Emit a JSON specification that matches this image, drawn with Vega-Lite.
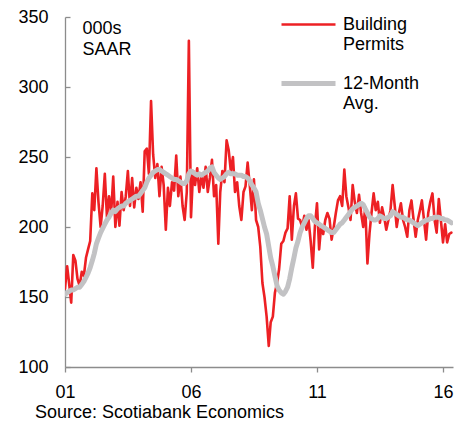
{
  "$schema": "https://vega.github.io/schema/vega-lite/v6.json",
  "width": 388,
  "height": 350,
  "autosize": "none",
  "padding": {"left": 65, "top": 17, "right": 13, "bottom": 57},
  "background": "white",
  "config": {
    "view": {"stroke": null},
    "font": "Liberation Sans",
    "axis": {
      "grid": false,
      "domainColor": "#8c8c8c",
      "domainWidth": 1.3,
      "tickColor": "#8c8c8c",
      "tickWidth": 1.3,
      "labelColor": "#000000",
      "labelFontSize": 18,
      "labelFont": "Liberation Sans"
    }
  },
  "title": {
    "text": "Source: Scotiabank Economics",
    "orient": "bottom",
    "anchor": "start",
    "dx": 17,
    "offset": 3,
    "fontSize": 18,
    "fontWeight": "normal",
    "color": "#000000",
    "font": "Liberation Sans"
  },
  "data": {
    "values": [
      {"d": "2001-01", "bp": 156, "avg": 152}, {"d": "2001-02", "bp": 172, "avg": 153}, {"d": "2001-03", "bp": 160, "avg": 154},
      {"d": "2001-04", "bp": 146, "avg": 155}, {"d": "2001-05", "bp": 180, "avg": 155}, {"d": "2001-06", "bp": 176, "avg": 156},
      {"d": "2001-07", "bp": 163, "avg": 157}, {"d": "2001-08", "bp": 158, "avg": 157}, {"d": "2001-09", "bp": 168, "avg": 159},
      {"d": "2001-10", "bp": 165, "avg": 161}, {"d": "2001-11", "bp": 178, "avg": 164}, {"d": "2001-12", "bp": 184, "avg": 167},
      {"d": "2002-01", "bp": 190, "avg": 171}, {"d": "2002-02", "bp": 224, "avg": 176}, {"d": "2002-03", "bp": 212, "avg": 181},
      {"d": "2002-04", "bp": 242, "avg": 188}, {"d": "2002-05", "bp": 218, "avg": 192}, {"d": "2002-06", "bp": 200, "avg": 196},
      {"d": "2002-07", "bp": 215, "avg": 199}, {"d": "2002-08", "bp": 238, "avg": 202}, {"d": "2002-09", "bp": 207, "avg": 205},
      {"d": "2002-10", "bp": 222, "avg": 207}, {"d": "2002-11", "bp": 210, "avg": 210}, {"d": "2002-12", "bp": 236, "avg": 212},
      {"d": "2003-01", "bp": 200, "avg": 211}, {"d": "2003-02", "bp": 218, "avg": 213}, {"d": "2003-03", "bp": 201, "avg": 214},
      {"d": "2003-04", "bp": 225, "avg": 215}, {"d": "2003-05", "bp": 212, "avg": 215}, {"d": "2003-06", "bp": 222, "avg": 217},
      {"d": "2003-07", "bp": 240, "avg": 218}, {"d": "2003-08", "bp": 215, "avg": 219}, {"d": "2003-09", "bp": 235, "avg": 220},
      {"d": "2003-10", "bp": 214, "avg": 221}, {"d": "2003-11", "bp": 228, "avg": 222}, {"d": "2003-12", "bp": 220, "avg": 222},
      {"d": "2004-01", "bp": 232, "avg": 224}, {"d": "2004-02", "bp": 211, "avg": 226}, {"d": "2004-03", "bp": 254, "avg": 228},
      {"d": "2004-04", "bp": 256, "avg": 232}, {"d": "2004-05", "bp": 238, "avg": 235}, {"d": "2004-06", "bp": 290, "avg": 237},
      {"d": "2004-07", "bp": 252, "avg": 239}, {"d": "2004-08", "bp": 235, "avg": 240}, {"d": "2004-09", "bp": 245, "avg": 241},
      {"d": "2004-10", "bp": 222, "avg": 241}, {"d": "2004-11", "bp": 243, "avg": 240}, {"d": "2004-12", "bp": 230, "avg": 239},
      {"d": "2005-01", "bp": 198, "avg": 238}, {"d": "2005-02", "bp": 228, "avg": 237}, {"d": "2005-03", "bp": 215, "avg": 236},
      {"d": "2005-04", "bp": 232, "avg": 235}, {"d": "2005-05", "bp": 226, "avg": 234}, {"d": "2005-06", "bp": 251, "avg": 234},
      {"d": "2005-07", "bp": 222, "avg": 233}, {"d": "2005-08", "bp": 236, "avg": 232}, {"d": "2005-09", "bp": 215, "avg": 231},
      {"d": "2005-10", "bp": 205, "avg": 231}, {"d": "2005-11", "bp": 225, "avg": 233}, {"d": "2005-12", "bp": 333, "avg": 238},
      {"d": "2006-01", "bp": 207, "avg": 240}, {"d": "2006-02", "bp": 240, "avg": 239}, {"d": "2006-03", "bp": 230, "avg": 238},
      {"d": "2006-04", "bp": 242, "avg": 237}, {"d": "2006-05", "bp": 225, "avg": 238}, {"d": "2006-06", "bp": 236, "avg": 237},
      {"d": "2006-07", "bp": 228, "avg": 238}, {"d": "2006-08", "bp": 243, "avg": 239}, {"d": "2006-09", "bp": 225, "avg": 240},
      {"d": "2006-10", "bp": 235, "avg": 242}, {"d": "2006-11", "bp": 248, "avg": 243}, {"d": "2006-12", "bp": 222, "avg": 239},
      {"d": "2007-01", "bp": 230, "avg": 237}, {"d": "2007-02", "bp": 188, "avg": 235}, {"d": "2007-03", "bp": 225, "avg": 234},
      {"d": "2007-04", "bp": 240, "avg": 235}, {"d": "2007-05", "bp": 232, "avg": 236}, {"d": "2007-06", "bp": 262, "avg": 238},
      {"d": "2007-07", "bp": 255, "avg": 239}, {"d": "2007-08", "bp": 240, "avg": 238}, {"d": "2007-09", "bp": 250, "avg": 238},
      {"d": "2007-10", "bp": 225, "avg": 238}, {"d": "2007-11", "bp": 232, "avg": 237}, {"d": "2007-12", "bp": 215, "avg": 237},
      {"d": "2008-01", "bp": 205, "avg": 237}, {"d": "2008-02", "bp": 225, "avg": 236}, {"d": "2008-03", "bp": 229, "avg": 236},
      {"d": "2008-04", "bp": 246, "avg": 235}, {"d": "2008-05", "bp": 230, "avg": 233}, {"d": "2008-06", "bp": 212, "avg": 230},
      {"d": "2008-07", "bp": 234, "avg": 228}, {"d": "2008-08", "bp": 205, "avg": 225}, {"d": "2008-09", "bp": 200, "avg": 217},
      {"d": "2008-10", "bp": 186, "avg": 212}, {"d": "2008-11", "bp": 160, "avg": 206}, {"d": "2008-12", "bp": 150, "avg": 200},
      {"d": "2009-01", "bp": 136, "avg": 195}, {"d": "2009-02", "bp": 115, "avg": 186}, {"d": "2009-03", "bp": 132, "avg": 178},
      {"d": "2009-04", "bp": 136, "avg": 172}, {"d": "2009-05", "bp": 153, "avg": 165}, {"d": "2009-06", "bp": 160, "avg": 158},
      {"d": "2009-07", "bp": 170, "avg": 155}, {"d": "2009-08", "bp": 188, "avg": 153}, {"d": "2009-09", "bp": 190, "avg": 152},
      {"d": "2009-10", "bp": 196, "avg": 154}, {"d": "2009-11", "bp": 199, "avg": 157}, {"d": "2009-12", "bp": 222, "avg": 163},
      {"d": "2010-01", "bp": 191, "avg": 171}, {"d": "2010-02", "bp": 215, "avg": 178}, {"d": "2010-03", "bp": 224, "avg": 185},
      {"d": "2010-04", "bp": 206, "avg": 190}, {"d": "2010-05", "bp": 205, "avg": 196}, {"d": "2010-06", "bp": 200, "avg": 200},
      {"d": "2010-07", "bp": 208, "avg": 203}, {"d": "2010-08", "bp": 198, "avg": 206}, {"d": "2010-09", "bp": 205, "avg": 208},
      {"d": "2010-10", "bp": 190, "avg": 208}, {"d": "2010-11", "bp": 171, "avg": 206}, {"d": "2010-12", "bp": 200, "avg": 204},
      {"d": "2011-01", "bp": 217, "avg": 203}, {"d": "2011-02", "bp": 184, "avg": 202}, {"d": "2011-03", "bp": 200, "avg": 201},
      {"d": "2011-04", "bp": 195, "avg": 200}, {"d": "2011-05", "bp": 205, "avg": 199}, {"d": "2011-06", "bp": 210, "avg": 198},
      {"d": "2011-07", "bp": 206, "avg": 197}, {"d": "2011-08", "bp": 191, "avg": 196}, {"d": "2011-09", "bp": 200, "avg": 196},
      {"d": "2011-10", "bp": 210, "avg": 198}, {"d": "2011-11", "bp": 219, "avg": 200}, {"d": "2011-12", "bp": 222, "avg": 202},
      {"d": "2012-01", "bp": 215, "avg": 203}, {"d": "2012-02", "bp": 241, "avg": 205}, {"d": "2012-03", "bp": 222, "avg": 207},
      {"d": "2012-04", "bp": 214, "avg": 209}, {"d": "2012-05", "bp": 205, "avg": 211}, {"d": "2012-06", "bp": 230, "avg": 213},
      {"d": "2012-07", "bp": 218, "avg": 214}, {"d": "2012-08", "bp": 210, "avg": 215}, {"d": "2012-09", "bp": 223, "avg": 216},
      {"d": "2012-10", "bp": 210, "avg": 217}, {"d": "2012-11", "bp": 200, "avg": 216}, {"d": "2012-12", "bp": 214, "avg": 213},
      {"d": "2013-01", "bp": 174, "avg": 210}, {"d": "2013-02", "bp": 196, "avg": 207}, {"d": "2013-03", "bp": 210, "avg": 206},
      {"d": "2013-04", "bp": 224, "avg": 205}, {"d": "2013-05", "bp": 212, "avg": 205}, {"d": "2013-06", "bp": 218, "avg": 206},
      {"d": "2013-07", "bp": 203, "avg": 208}, {"d": "2013-08", "bp": 214, "avg": 207}, {"d": "2013-09", "bp": 207, "avg": 206},
      {"d": "2013-10", "bp": 198, "avg": 206}, {"d": "2013-11", "bp": 205, "avg": 207}, {"d": "2013-12", "bp": 212, "avg": 208},
      {"d": "2014-01", "bp": 230, "avg": 211}, {"d": "2014-02", "bp": 215, "avg": 210}, {"d": "2014-03", "bp": 200, "avg": 209},
      {"d": "2014-04", "bp": 210, "avg": 208}, {"d": "2014-05", "bp": 217, "avg": 207}, {"d": "2014-06", "bp": 205, "avg": 207},
      {"d": "2014-07", "bp": 200, "avg": 206}, {"d": "2014-08", "bp": 193, "avg": 205}, {"d": "2014-09", "bp": 212, "avg": 205},
      {"d": "2014-10", "bp": 219, "avg": 204}, {"d": "2014-11", "bp": 205, "avg": 203}, {"d": "2014-12", "bp": 193, "avg": 202},
      {"d": "2015-01", "bp": 205, "avg": 201}, {"d": "2015-02", "bp": 212, "avg": 202}, {"d": "2015-03", "bp": 219, "avg": 203},
      {"d": "2015-04", "bp": 205, "avg": 204}, {"d": "2015-05", "bp": 191, "avg": 205}, {"d": "2015-06", "bp": 210, "avg": 205},
      {"d": "2015-07", "bp": 218, "avg": 206}, {"d": "2015-08", "bp": 224, "avg": 206}, {"d": "2015-09", "bp": 205, "avg": 207},
      {"d": "2015-10", "bp": 196, "avg": 207}, {"d": "2015-11", "bp": 220, "avg": 207}, {"d": "2015-12", "bp": 205, "avg": 206},
      {"d": "2016-01", "bp": 189, "avg": 206}, {"d": "2016-02", "bp": 202, "avg": 205}, {"d": "2016-03", "bp": 189, "avg": 205},
      {"d": "2016-04", "bp": 195, "avg": 204}, {"d": "2016-05", "bp": 196, "avg": 203}
    ]
  },
  "transform": [{"fold": ["bp", "avg"], "as": ["series", "value"]}],
  "mark": {"type": "line", "strokeCap": "round", "strokeJoin": "round", "clip": true},
  "encoding": {
    "x": {
      "field": "d",
      "type": "temporal",
      "scale": {
        "type": "utc",
        "domain": [
          {"year": 2001, "month": 1, "date": 1, "utc": true},
          {"year": 2016, "month": 5, "date": 25, "utc": true}
        ]
      },
      "axis": {
        "title": null,
        "values": [
          {"year": 2001, "month": 1, "date": 1, "utc": true},
          {"year": 2006, "month": 1, "date": 1, "utc": true},
          {"year": 2011, "month": 1, "date": 1, "utc": true},
          {"year": 2016, "month": 1, "date": 1, "utc": true}
        ],
        "labelExpr": "utcFormat(datum.value, '%y')",
        "tickSize": 5,
        "labelPadding": 11,
        "labelFlush": false,
        "labelOverlap": false
      }
    },
    "y": {
      "field": "value",
      "type": "quantitative",
      "scale": {"domain": [100, 350], "nice": false, "zero": false},
      "axis": {
        "values": [100, 150, 200, 250, 300, 350],
        "tickSize": -5,
        "labelPadding": 22,
        "title": ["000s", "SAAR"],
        "titleAngle": 0,
        "titleX": 17,
        "titleY": 2,
        "titleAlign": "left",
        "titleBaseline": "top",
        "titleFontSize": 18,
        "titleFontWeight": "normal",
        "titleLineHeight": 21,
        "titleColor": "#000000",
        "titleFont": "Liberation Sans"
      }
    },
    "color": {
      "field": "series",
      "type": "nominal",
      "scale": {"domain": ["bp", "avg"], "range": ["#ED2024", "#C2C2C4"]},
      "legend": {
        "orient": "none",
        "legendX": 214,
        "legendY": -21,
        "direction": "vertical",
        "title": null,
        "padding": 0,
        "symbolType": "stroke",
        "symbolSize": 2916,
        "labelFontSize": 18,
        "labelFont": "Liberation Sans",
        "labelColor": "#000000",
        "labelLimit": 0,
        "labelOffset": 5,
        "rowPadding": -8,
        "labelExpr": "datum.value == 'bp' ? ['Building', 'Permits'] : ['12-Month', 'Avg.']"
      }
    },
    "strokeWidth": {
      "field": "series",
      "type": "nominal",
      "scale": {"type": "ordinal", "domain": ["bp", "avg"], "range": [2.6, 5]}
    }
  }
}
